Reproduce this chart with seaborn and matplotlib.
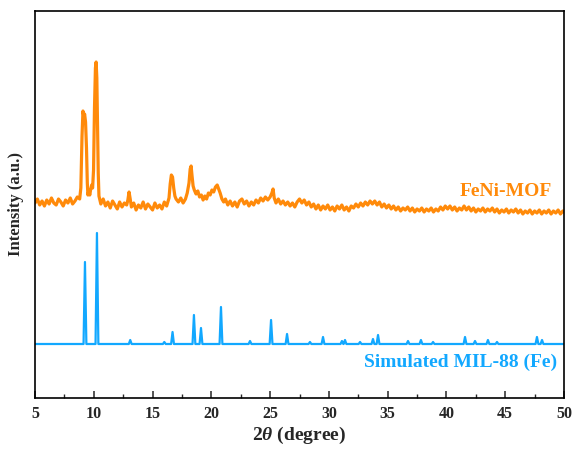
import matplotlib
matplotlib.use("Agg")
import matplotlib.pyplot as plt
import numpy as np
import pandas as pd
import seaborn as sns

feni_points = [
    (5.0, 195), (5.2, 199), (5.4, 193), (5.6, 197), (5.8, 192), (6.0, 198), (6.2, 194),
    (6.4, 200), (6.6, 195), (6.8, 193), (7.0, 199), (7.2, 196), (7.4, 192), (7.6, 198),
    (7.8, 195), (8.0, 200), (8.2, 194), (8.4, 197), (8.6, 201), (8.8, 199),
    (8.9, 210), (9.0, 262), (9.08, 287), (9.16, 281), (9.22, 284), (9.3, 276), (9.38, 250),
    (9.45, 215), (9.5, 203), (9.58, 207), (9.66, 203), (9.74, 209), (9.82, 213), (9.9, 210),
    (9.98, 228), (10.06, 290), (10.14, 330), (10.2, 336), (10.26, 320), (10.32, 270),
    (10.38, 225), (10.44, 202), (10.52, 198),
    (10.6, 194), (10.8, 199), (11.0, 192), (11.2, 196), (11.4, 190), (11.6, 197), (11.8, 193),
    (12.0, 189), (12.2, 196), (12.4, 191), (12.6, 195), (12.8, 193),
    (12.9, 198), (13.0, 206), (13.1, 199),
    (13.2, 191), (13.4, 195), (13.6, 188), (13.8, 193), (14.0, 190), (14.2, 196), (14.4, 189),
    (14.6, 194), (14.8, 191), (15.0, 188), (15.2, 195), (15.4, 190), (15.6, 193), (15.8, 189),
    (16.0, 196), (16.2, 192),
    (16.4, 200), (16.5, 214), (16.6, 223), (16.7, 221), (16.8, 210), (16.9, 202), (17.0, 199),
    (17.2, 196), (17.4, 200), (17.6, 195), (17.8, 199),
    (17.95, 205), (18.1, 215), (18.2, 229), (18.28, 232), (18.36, 222), (18.45, 212),
    (18.55, 208), (18.7, 204), (18.85, 207), (19.0, 201), (19.15, 203), (19.3, 198),
    (19.45, 202), (19.6, 199), (19.75, 205), (19.9, 203), (20.05, 208), (20.2, 206),
    (20.35, 211), (20.5, 213), (20.62, 209), (20.75, 205), (20.9, 199), (21.05, 196),
    (21.2, 199), (21.4, 193), (21.6, 197), (21.8, 192), (22.0, 196), (22.2, 191), (22.4, 197),
    (22.6, 199), (22.8, 194), (23.0, 197), (23.2, 192), (23.4, 196), (23.6, 193), (23.8, 198),
    (24.0, 195), (24.2, 200), (24.4, 197), (24.6, 201), (24.8, 198), (25.0, 201),
    (25.15, 205), (25.25, 209), (25.35, 200), (25.5, 195),
    (25.7, 199), (25.9, 194), (26.1, 197), (26.3, 193), (26.5, 196), (26.7, 192), (26.9, 195),
    (27.1, 191), (27.3, 196), (27.5, 199), (27.7, 195), (27.9, 198), (28.1, 193), (28.3, 196),
    (28.5, 191), (28.7, 194), (28.9, 189), (29.1, 193), (29.3, 188), (29.5, 192), (29.7, 189),
    (29.9, 193), (30.1, 188), (30.3, 191), (30.5, 187), (30.7, 192), (30.9, 189), (31.1, 193),
    (31.3, 188), (31.5, 191), (31.7, 187), (31.9, 192), (32.1, 190), (32.3, 194), (32.5, 191),
    (32.7, 195), (32.9, 192), (33.1, 196), (33.3, 193), (33.5, 197), (33.7, 194), (33.9, 197),
    (34.1, 193), (34.3, 196), (34.5, 191), (34.7, 194), (34.9, 190), (35.1, 193), (35.3, 189),
    (35.5, 192), (35.7, 188), (35.9, 191), (36.1, 187), (36.3, 190), (36.5, 188), (36.7, 191),
    (36.9, 187), (37.1, 190), (37.3, 186), (37.5, 189), (37.7, 187), (37.9, 190), (38.1, 186),
    (38.3, 189), (38.5, 187), (38.7, 190), (38.9, 186), (39.1, 189), (39.3, 187), (39.5, 191),
    (39.7, 188), (39.9, 192), (40.1, 189), (40.3, 192), (40.5, 188), (40.7, 191), (40.9, 187),
    (41.1, 190), (41.3, 188), (41.5, 192), (41.7, 188), (41.9, 191), (42.1, 187), (42.3, 190),
    (42.5, 186), (42.7, 189), (42.9, 187), (43.1, 190), (43.3, 186), (43.5, 189), (43.7, 187),
    (43.9, 190), (44.1, 186), (44.3, 189), (44.5, 185), (44.7, 188), (44.9, 186), (45.1, 189),
    (45.3, 185), (45.5, 188), (45.7, 186), (45.9, 189), (46.1, 185), (46.3, 188), (46.5, 184),
    (46.7, 187), (46.9, 185), (47.1, 188), (47.3, 184), (47.5, 187), (47.7, 185), (47.9, 188),
    (48.1, 184), (48.3, 187), (48.5, 185), (48.7, 188), (48.9, 184), (49.1, 187), (49.3, 185),
    (49.5, 188), (49.7, 184), (49.9, 187), (50.0, 186),
]

# simulated MIL-88 (Fe): baseline and peak list (position, peak top)
sim_baseline = 54
sim_peak_pos = [9.25, 10.27, 13.1, 16.0, 16.7, 18.52, 19.12, 20.82, 23.29, 25.08, 26.44,
                28.39, 29.5, 31.11, 31.37, 32.65, 33.75, 34.18, 36.73, 37.83, 38.86,
                41.58, 42.43, 43.53, 44.3, 47.7, 48.13]
sim_peak_top = [136, 165, 58, 56, 66, 83, 70, 91, 57, 78, 64,
                56, 61, 57, 58, 56, 59, 63, 57, 58, 56,
                61, 57, 58, 56, 61, 58]

x_ticks = [5, 10, 15, 20, 25, 30, 35, 40, 45, 50]

orange = "#ff8a0a"
blue = "#12a8ff"

feni = pd.DataFrame(feni_points, columns=["two_theta", "intensity"])

# stick pattern drawn as narrow spikes on the baseline
half_w = 0.12
sx, sy = [5.0], [sim_baseline]
for p, t in zip(sim_peak_pos, sim_peak_top):
    sx += [p - half_w, p, p + half_w]
    sy += [sim_baseline, t, sim_baseline]
sx.append(50.0)
sy.append(sim_baseline)
sim = pd.DataFrame({"two_theta": sx, "intensity": sy})

sns.set_theme(style="ticks")
plt.rcParams["font.family"] = ["Liberation Serif", "DejaVu Serif"]
plt.rcParams["font.weight"] = "bold"
plt.rcParams["mathtext.fontset"] = "custom"
plt.rcParams["mathtext.it"] = "Liberation Serif:italic:bold"
plt.rcParams["mathtext.rm"] = "Liberation Serif:bold"

fig = plt.figure(figsize=(5.74, 4.49), dpi=100)
ax = fig.add_axes([35 / 574, 1 - 398 / 449, 529 / 574, 387 / 449])

sns.lineplot(data=feni, x="two_theta", y="intensity", ax=ax, color=orange,
             lw=2.3, estimator=None, sort=False)
sns.lineplot(data=sim, x="two_theta", y="intensity", ax=ax, color=blue,
             lw=1.6, estimator=None, sort=False)

ax.set_xlim(5, 50)
ax.set_ylim(0, 387)
ax.set_xticks(x_ticks)
ax.set_xticks(np.arange(7.5, 50, 5), minor=True)
ax.set_yticks([])
ax.tick_params(axis="x", which="major", direction="in", length=5, width=1.1,
               labelsize=11.5, pad=6, top=False)
ax.tick_params(axis="x", which="minor", direction="in", length=3, width=1.0, top=False)
for lab in ax.get_xticklabels():
    lab.set_fontweight("bold")
for s in ax.spines.values():
    s.set_linewidth(1.2)
    s.set_color("black")

ax.set_xlabel(r"2$\theta$ (degree)", fontsize=14, fontweight="bold", labelpad=2)
ax.set_ylabel("Intensity (a.u.)", fontsize=12, fontweight="bold", labelpad=8)

ax.text(49.0, 198, "FeNi-MOF", color=orange, fontsize=14, fontweight="bold",
        ha="right", va="bottom")
ax.text(49.4, 44, "Simulated MIL-88 (Fe)", color=blue, fontsize=14, fontweight="bold",
        ha="right", va="top")

fig.savefig("out.png", dpi=100)
